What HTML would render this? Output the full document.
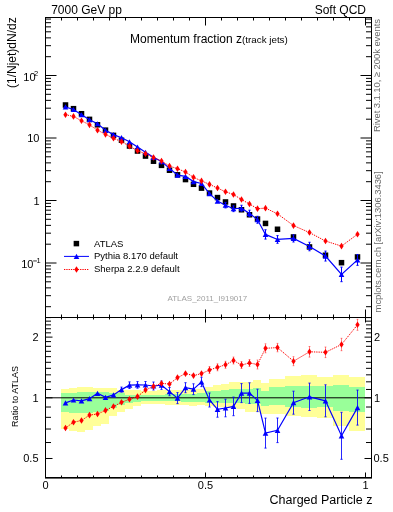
<!DOCTYPE html><html><head><meta charset="utf-8"><style>html,body{margin:0;padding:0;background:#fff;}svg{display:block;}text{font-family:"Liberation Sans",sans-serif;}svg{will-change:transform;}</style></head><body>
<svg width="393" height="512" viewBox="0 0 393 512">
<rect width="393" height="512" fill="#fff"/>
<g fill="#ffff99" shape-rendering="crispEdges"><rect x="61.00" y="389.00" width="8.00" height="40.10"/><rect x="69.00" y="388.10" width="8.00" height="42.90"/><rect x="77.00" y="387.30" width="8.00" height="44.30"/><rect x="85.00" y="387.30" width="8.00" height="43.00"/><rect x="93.00" y="387.70" width="8.00" height="38.20"/><rect x="101.00" y="387.60" width="8.00" height="35.90"/><rect x="109.00" y="388.20" width="8.00" height="28.00"/><rect x="117.00" y="389.50" width="8.00" height="22.90"/><rect x="125.00" y="390.10" width="8.00" height="18.40"/><rect x="133.00" y="390.10" width="8.00" height="15.90"/><rect x="141.00" y="390.70" width="8.00" height="13.40"/><rect x="149.00" y="390.50" width="8.00" height="13.70"/><rect x="157.00" y="390.30" width="8.00" height="14.00"/><rect x="165.00" y="390.00" width="8.00" height="14.50"/><rect x="173.00" y="389.80" width="8.00" height="15.00"/><rect x="181.00" y="389.50" width="8.00" height="15.70"/><rect x="189.00" y="389.20" width="8.00" height="16.30"/><rect x="197.00" y="388.70" width="8.00" height="16.60"/><rect x="205.00" y="387.00" width="8.00" height="18.90"/><rect x="213.00" y="385.30" width="8.00" height="21.20"/><rect x="221.00" y="384.20" width="8.00" height="22.90"/><rect x="229.00" y="382.40" width="8.00" height="25.40"/><rect x="237.00" y="381.70" width="8.00" height="27.40"/><rect x="245.00" y="382.20" width="8.00" height="29.40"/><rect x="253.00" y="379.70" width="8.00" height="32.60"/><rect x="261.00" y="383.20" width="8.00" height="31.00"/><rect x="269.00" y="378.50" width="16.00" height="35.50"/><rect x="285.00" y="376.40" width="16.00" height="39.20"/><rect x="301.00" y="375.00" width="16.00" height="42.00"/><rect x="317.00" y="377.30" width="16.00" height="40.20"/><rect x="333.00" y="375.10" width="16.00" height="50.60"/><rect x="349.00" y="376.80" width="16.00" height="53.90"/></g>
<g fill="#99ff99" shape-rendering="crispEdges"><rect x="61.00" y="392.80" width="8.00" height="19.10"/><rect x="69.00" y="392.50" width="8.00" height="20.00"/><rect x="77.00" y="392.20" width="8.00" height="21.00"/><rect x="85.00" y="392.20" width="8.00" height="20.60"/><rect x="93.00" y="392.40" width="8.00" height="19.50"/><rect x="101.00" y="392.20" width="8.00" height="18.60"/><rect x="109.00" y="392.60" width="8.00" height="15.30"/><rect x="117.00" y="393.30" width="8.00" height="12.10"/><rect x="125.00" y="394.50" width="8.00" height="8.90"/><rect x="133.00" y="394.50" width="8.00" height="7.70"/><rect x="141.00" y="395.10" width="8.00" height="5.80"/><rect x="149.00" y="394.60" width="8.00" height="6.40"/><rect x="157.00" y="394.60" width="8.00" height="6.40"/><rect x="165.00" y="394.40" width="8.00" height="6.80"/><rect x="173.00" y="394.10" width="8.00" height="7.30"/><rect x="181.00" y="393.90" width="8.00" height="7.70"/><rect x="189.00" y="393.60" width="8.00" height="8.20"/><rect x="197.00" y="392.70" width="8.00" height="9.20"/><rect x="205.00" y="391.00" width="8.00" height="11.50"/><rect x="213.00" y="390.50" width="8.00" height="12.50"/><rect x="221.00" y="389.90" width="8.00" height="13.10"/><rect x="229.00" y="389.30" width="8.00" height="13.70"/><rect x="237.00" y="388.80" width="8.00" height="14.60"/><rect x="245.00" y="389.30" width="8.00" height="14.70"/><rect x="253.00" y="388.30" width="8.00" height="15.70"/><rect x="261.00" y="390.90" width="8.00" height="15.00"/><rect x="269.00" y="387.20" width="16.00" height="17.90"/><rect x="285.00" y="386.20" width="16.00" height="20.30"/><rect x="301.00" y="385.50" width="16.00" height="22.40"/><rect x="317.00" y="385.80" width="16.00" height="21.40"/><rect x="333.00" y="385.10" width="16.00" height="25.60"/><rect x="349.00" y="386.50" width="16.00" height="25.70"/></g>
<line x1="45.5" y1="397.80" x2="371.5" y2="397.80" stroke="#000" stroke-width="1"/>
<g stroke="#000" stroke-width="1" fill="none">
<rect x="45.5" y="17.5" width="326.0" height="300.0"/>
<rect x="45.5" y="317.5" width="326.0" height="160.0"/>
<path d="M45.50 17.5v8M45.50 317.5v-8M45.50 317.5v5M45.50 477.5v-5M61.50 17.5v3M61.50 317.5v-3M61.50 317.5v2M61.50 477.5v-2M77.50 17.5v3M77.50 317.5v-3M77.50 317.5v2M77.50 477.5v-2M93.50 17.5v3M93.50 317.5v-3M93.50 317.5v2M93.50 477.5v-2M109.50 17.5v3M109.50 317.5v-3M109.50 317.5v2M109.50 477.5v-2M125.50 17.5v3M125.50 317.5v-3M125.50 317.5v2M125.50 477.5v-2M141.50 17.5v3M141.50 317.5v-3M141.50 317.5v2M141.50 477.5v-2M157.50 17.5v3M157.50 317.5v-3M157.50 317.5v2M157.50 477.5v-2M173.50 17.5v3M173.50 317.5v-3M173.50 317.5v2M173.50 477.5v-2M189.50 17.5v3M189.50 317.5v-3M189.50 317.5v2M189.50 477.5v-2M205.50 17.5v8M205.50 317.5v-8M205.50 317.5v5M205.50 477.5v-5M221.50 17.5v3M221.50 317.5v-3M221.50 317.5v2M221.50 477.5v-2M237.50 17.5v3M237.50 317.5v-3M237.50 317.5v2M237.50 477.5v-2M253.50 17.5v3M253.50 317.5v-3M253.50 317.5v2M253.50 477.5v-2M269.50 17.5v3M269.50 317.5v-3M269.50 317.5v2M269.50 477.5v-2M285.50 17.5v3M285.50 317.5v-3M285.50 317.5v2M285.50 477.5v-2M301.50 17.5v3M301.50 317.5v-3M301.50 317.5v2M301.50 477.5v-2M317.50 17.5v3M317.50 317.5v-3M317.50 317.5v2M317.50 477.5v-2M333.50 17.5v3M333.50 317.5v-3M333.50 317.5v2M333.50 477.5v-2M349.50 17.5v3M349.50 317.5v-3M349.50 317.5v2M349.50 477.5v-2M365.50 17.5v8M365.50 317.5v-8M365.50 317.5v5M365.50 477.5v-5M45.5 306.69h5.5M371.5 306.69h-5.5M45.5 295.68h5.5M371.5 295.68h-5.5M45.5 287.87h5.5M371.5 287.87h-5.5M45.5 281.81h5.5M371.5 281.81h-5.5M45.5 276.87h5.5M371.5 276.87h-5.5M45.5 272.68h5.5M371.5 272.68h-5.5M45.5 269.06h5.5M371.5 269.06h-5.5M45.5 265.86h5.5M371.5 265.86h-5.5M45.5 263.00h11M371.5 263.00h-11M45.5 244.19h5.5M371.5 244.19h-5.5M45.5 233.18h5.5M371.5 233.18h-5.5M45.5 225.37h5.5M371.5 225.37h-5.5M45.5 219.31h5.5M371.5 219.31h-5.5M45.5 214.37h5.5M371.5 214.37h-5.5M45.5 210.18h5.5M371.5 210.18h-5.5M45.5 206.56h5.5M371.5 206.56h-5.5M45.5 203.36h5.5M371.5 203.36h-5.5M45.5 200.50h11M371.5 200.50h-11M45.5 181.69h5.5M371.5 181.69h-5.5M45.5 170.68h5.5M371.5 170.68h-5.5M45.5 162.87h5.5M371.5 162.87h-5.5M45.5 156.81h5.5M371.5 156.81h-5.5M45.5 151.87h5.5M371.5 151.87h-5.5M45.5 147.68h5.5M371.5 147.68h-5.5M45.5 144.06h5.5M371.5 144.06h-5.5M45.5 140.86h5.5M371.5 140.86h-5.5M45.5 138.00h11M371.5 138.00h-11M45.5 119.19h5.5M371.5 119.19h-5.5M45.5 108.18h5.5M371.5 108.18h-5.5M45.5 100.37h5.5M371.5 100.37h-5.5M45.5 94.31h5.5M371.5 94.31h-5.5M45.5 89.37h5.5M371.5 89.37h-5.5M45.5 85.18h5.5M371.5 85.18h-5.5M45.5 81.56h5.5M371.5 81.56h-5.5M45.5 78.36h5.5M371.5 78.36h-5.5M45.5 75.50h11M371.5 75.50h-11M45.5 56.69h5.5M371.5 56.69h-5.5M45.5 45.68h5.5M371.5 45.68h-5.5M45.5 37.87h5.5M371.5 37.87h-5.5M45.5 31.81h5.5M371.5 31.81h-5.5M45.5 26.87h5.5M371.5 26.87h-5.5M45.5 22.68h5.5M371.5 22.68h-5.5M45.5 19.06h5.5M371.5 19.06h-5.5M45.5 458.49h7M371.5 458.49h-7M45.5 442.52h5.5M371.5 442.52h-5.5M45.5 429.03h5.5M371.5 429.03h-5.5M45.5 417.34h5.5M371.5 417.34h-5.5M45.5 407.02h5.5M371.5 407.02h-5.5M45.5 397.80h7M371.5 397.80h-7M45.5 389.46h5.5M371.5 389.46h-5.5M45.5 381.84h5.5M371.5 381.84h-5.5M45.5 374.83h5.5M371.5 374.83h-5.5M45.5 368.34h5.5M371.5 368.34h-5.5M45.5 362.30h5.5M371.5 362.30h-5.5M45.5 356.65h5.5M371.5 356.65h-5.5M45.5 351.34h5.5M371.5 351.34h-5.5M45.5 346.34h5.5M371.5 346.34h-5.5M45.5 341.60h5.5M371.5 341.60h-5.5M45.5 337.11h7M371.5 337.11h-7M45.5 332.84h5.5M371.5 332.84h-5.5M45.5 328.77h5.5M371.5 328.77h-5.5M45.5 324.88h5.5M371.5 324.88h-5.5M45.5 321.15h5.5M371.5 321.15h-5.5M45.5 317.58h5.5M371.5 317.58h-5.5"/>
</g>
<rect x="45" y="477" width="327" height="1.6" fill="#000"/>
<g fill="#000"><rect x="62.75" y="102.24" width="5.5" height="5.5"/><rect x="70.75" y="105.92" width="5.5" height="5.5"/><rect x="78.75" y="110.98" width="5.5" height="5.5"/><rect x="86.75" y="116.61" width="5.5" height="5.5"/><rect x="94.75" y="122.03" width="5.5" height="5.5"/><rect x="102.75" y="127.40" width="5.5" height="5.5"/><rect x="110.75" y="132.63" width="5.5" height="5.5"/><rect x="118.75" y="137.47" width="5.5" height="5.5"/><rect x="126.75" y="143.29" width="5.5" height="5.5"/><rect x="134.75" y="148.28" width="5.5" height="5.5"/><rect x="142.75" y="153.32" width="5.5" height="5.5"/><rect x="150.75" y="158.46" width="5.5" height="5.5"/><rect x="158.75" y="162.61" width="5.5" height="5.5"/><rect x="166.75" y="167.48" width="5.5" height="5.5"/><rect x="174.75" y="172.04" width="5.5" height="5.5"/><rect x="182.75" y="176.82" width="5.5" height="5.5"/><rect x="190.75" y="181.53" width="5.5" height="5.5"/><rect x="198.75" y="185.38" width="5.5" height="5.5"/><rect x="206.75" y="190.32" width="5.5" height="5.5"/><rect x="214.75" y="194.83" width="5.5" height="5.5"/><rect x="222.75" y="199.19" width="5.5" height="5.5"/><rect x="230.75" y="203.21" width="5.5" height="5.5"/><rect x="238.75" y="207.01" width="5.5" height="5.5"/><rect x="246.75" y="212.00" width="5.5" height="5.5"/><rect x="254.75" y="216.30" width="5.5" height="5.5"/><rect x="262.75" y="220.67" width="5.5" height="5.5"/><rect x="274.75" y="226.51" width="5.5" height="5.5"/><rect x="290.75" y="234.22" width="5.5" height="5.5"/><rect x="306.75" y="244.19" width="5.5" height="5.5"/><rect x="322.75" y="252.50" width="5.5" height="5.5"/><rect x="338.75" y="259.92" width="5.5" height="5.5"/><rect x="354.75" y="254.21" width="5.5" height="5.5"/></g>
<polyline points="65.50,106.95 73.50,109.50 81.50,114.74 89.50,119.75 97.50,123.74 105.50,130.32 113.50,134.65 121.50,137.71 129.50,141.83 137.50,147.09 145.50,152.24 153.50,157.36 161.50,161.58 169.50,168.37 177.50,175.07 185.50,176.37 193.50,181.58 201.50,183.47 209.50,193.69 217.50,201.12 225.50,205.18 233.50,208.75 241.50,208.23 249.50,213.39 257.50,219.77 265.50,234.42 277.50,239.46 293.50,238.44 309.50,246.52 325.50,256.08 341.50,274.39 357.50,259.90" fill="none" stroke="#00f" stroke-width="1.2"/>
<path d="M225.50 202.45V207.91M224.40 202.45h2.2M224.40 207.91h2.2M233.50 205.86V211.63M232.40 205.86h2.2M232.40 211.63h2.2M241.50 205.28V211.17M240.40 205.28h2.2M240.40 211.17h2.2M249.50 210.19V216.58M248.40 210.19h2.2M248.40 216.58h2.2M257.50 216.30V223.24M256.40 216.30h2.2M256.40 223.24h2.2M265.50 229.77V239.07M264.40 229.77h2.2M264.40 239.07h2.2M277.50 235.64V243.27M276.40 235.64h2.2M276.40 243.27h2.2M293.50 234.88V242.01M292.40 234.88h2.2M292.40 242.01h2.2M309.50 242.27V250.77M308.40 242.27h2.2M308.40 250.77h2.2M325.50 251.12V261.04M324.40 251.12h2.2M324.40 261.04h2.2M341.50 267.11V281.68M340.40 267.11h2.2M340.40 281.68h2.2M357.50 254.48V265.33M356.40 254.48h2.2M356.40 265.33h2.2" stroke="#00f" stroke-width="1"/>
<g fill="#00f"><path d="M62.70 109.55L65.50 104.35L68.30 109.55Z"/><path d="M70.70 112.10L73.50 106.90L76.30 112.10Z"/><path d="M78.70 117.34L81.50 112.14L84.30 117.34Z"/><path d="M86.70 122.35L89.50 117.15L92.30 122.35Z"/><path d="M94.70 126.34L97.50 121.14L100.30 126.34Z"/><path d="M102.70 132.92L105.50 127.72L108.30 132.92Z"/><path d="M110.70 137.25L113.50 132.05L116.30 137.25Z"/><path d="M118.70 140.31L121.50 135.11L124.30 140.31Z"/><path d="M126.70 144.43L129.50 139.23L132.30 144.43Z"/><path d="M134.70 149.69L137.50 144.49L140.30 149.69Z"/><path d="M142.70 154.84L145.50 149.64L148.30 154.84Z"/><path d="M150.70 159.96L153.50 154.76L156.30 159.96Z"/><path d="M158.70 164.18L161.50 158.98L164.30 164.18Z"/><path d="M166.70 170.97L169.50 165.77L172.30 170.97Z"/><path d="M174.70 177.67L177.50 172.47L180.30 177.67Z"/><path d="M182.70 178.97L185.50 173.77L188.30 178.97Z"/><path d="M190.70 184.18L193.50 178.98L196.30 184.18Z"/><path d="M198.70 186.07L201.50 180.87L204.30 186.07Z"/><path d="M206.70 196.29L209.50 191.09L212.30 196.29Z"/><path d="M214.70 203.72L217.50 198.52L220.30 203.72Z"/><path d="M222.70 207.78L225.50 202.58L228.30 207.78Z"/><path d="M230.70 211.35L233.50 206.15L236.30 211.35Z"/><path d="M238.70 210.83L241.50 205.63L244.30 210.83Z"/><path d="M246.70 215.99L249.50 210.79L252.30 215.99Z"/><path d="M254.70 222.37L257.50 217.17L260.30 222.37Z"/><path d="M262.70 237.02L265.50 231.82L268.30 237.02Z"/><path d="M274.70 242.06L277.50 236.86L280.30 242.06Z"/><path d="M290.70 241.04L293.50 235.84L296.30 241.04Z"/><path d="M306.70 249.12L309.50 243.92L312.30 249.12Z"/><path d="M322.70 258.68L325.50 253.48L328.30 258.68Z"/><path d="M338.70 276.99L341.50 271.79L344.30 276.99Z"/><path d="M354.70 262.50L357.50 257.30L360.30 262.50Z"/></g>
<polyline points="65.50,114.73 73.50,116.38 81.50,120.82 89.50,124.83 97.50,130.16 105.50,134.35 113.50,138.25 121.50,141.65 129.50,146.17 137.50,150.71 145.50,153.79 153.50,157.48 161.50,161.02 169.50,166.01 177.50,168.72 185.50,172.00 193.50,177.36 201.50,180.90 209.50,184.39 217.50,188.07 225.50,191.78 233.50,194.52 241.50,199.52 249.50,204.06 257.50,208.64 265.50,208.13 277.50,213.82 293.50,225.58 309.50,232.57 325.50,241.05 341.50,246.09 357.50,234.23" fill="none" stroke="#f00" stroke-width="1" stroke-dasharray="1.3 1"/>
<g fill="#f00"><path d="M65.50 111.43L67.65 114.73L65.50 118.03L63.35 114.73Z"/><path d="M73.50 113.08L75.65 116.38L73.50 119.68L71.35 116.38Z"/><path d="M81.50 117.52L83.65 120.82L81.50 124.12L79.35 120.82Z"/><path d="M89.50 121.53L91.65 124.83L89.50 128.13L87.35 124.83Z"/><path d="M97.50 126.86L99.65 130.16L97.50 133.46L95.35 130.16Z"/><path d="M105.50 131.05L107.65 134.35L105.50 137.65L103.35 134.35Z"/><path d="M113.50 134.95L115.65 138.25L113.50 141.55L111.35 138.25Z"/><path d="M121.50 138.35L123.65 141.65L121.50 144.95L119.35 141.65Z"/><path d="M129.50 142.87L131.65 146.17L129.50 149.47L127.35 146.17Z"/><path d="M137.50 147.41L139.65 150.71L137.50 154.01L135.35 150.71Z"/><path d="M145.50 150.49L147.65 153.79L145.50 157.09L143.35 153.79Z"/><path d="M153.50 154.18L155.65 157.48L153.50 160.78L151.35 157.48Z"/><path d="M161.50 157.72L163.65 161.02L161.50 164.32L159.35 161.02Z"/><path d="M169.50 162.71L171.65 166.01L169.50 169.31L167.35 166.01Z"/><path d="M177.50 165.42L179.65 168.72L177.50 172.02L175.35 168.72Z"/><path d="M185.50 168.70L187.65 172.00L185.50 175.30L183.35 172.00Z"/><path d="M193.50 174.06L195.65 177.36L193.50 180.66L191.35 177.36Z"/><path d="M201.50 177.60L203.65 180.90L201.50 184.20L199.35 180.90Z"/><path d="M209.50 181.09L211.65 184.39L209.50 187.69L207.35 184.39Z"/><path d="M217.50 184.77L219.65 188.07L217.50 191.37L215.35 188.07Z"/><path d="M225.50 188.48L227.65 191.78L225.50 195.08L223.35 191.78Z"/><path d="M233.50 191.22L235.65 194.52L233.50 197.82L231.35 194.52Z"/><path d="M241.50 196.22L243.65 199.52L241.50 202.82L239.35 199.52Z"/><path d="M249.50 200.76L251.65 204.06L249.50 207.36L247.35 204.06Z"/><path d="M257.50 205.34L259.65 208.64L257.50 211.94L255.35 208.64Z"/><path d="M265.50 204.83L267.65 208.13L265.50 211.43L263.35 208.13Z"/><path d="M277.50 210.52L279.65 213.82L277.50 217.12L275.35 213.82Z"/><path d="M293.50 222.28L295.65 225.58L293.50 228.88L291.35 225.58Z"/><path d="M309.50 229.27L311.65 232.57L309.50 235.87L307.35 232.57Z"/><path d="M325.50 237.75L327.65 241.05L325.50 244.35L323.35 241.05Z"/><path d="M341.50 242.79L343.65 246.09L341.50 249.39L339.35 246.09Z"/><path d="M357.50 230.93L359.65 234.23L357.50 237.53L355.35 234.23Z"/></g>
<polyline points="65.50,402.90 73.50,400.00 81.50,400.90 89.50,398.70 97.50,393.30 105.50,397.40 113.50,394.90 121.50,389.60 129.50,385.20 137.50,384.90 145.50,385.00 153.50,386.00 161.50,385.20 169.50,391.60 177.50,398.10 185.50,387.70 193.50,389.20 201.50,381.90 209.50,400.00 217.50,409.40 225.50,408.00 233.50,406.40 241.50,393.10 249.50,393.10 257.50,400.40 265.50,433.10 277.50,430.30 293.50,402.70 309.50,396.80 325.50,400.80 341.50,435.80 357.50,407.60" fill="none" stroke="#00f" stroke-width="1.2"/>
<path d="M121.50 387.10V392.10M120.40 387.10h2.2M120.40 392.10h2.2M129.50 381.90V388.50M128.40 381.90h2.2M128.40 388.50h2.2M137.50 381.60V388.20M136.40 381.60h2.2M136.40 388.20h2.2M145.50 381.50V388.50M144.40 381.50h2.2M144.40 388.50h2.2M153.50 382.00V390.00M152.40 382.00h2.2M152.40 390.00h2.2M161.50 381.00V389.40M160.40 381.00h2.2M160.40 389.40h2.2M169.50 387.50V395.70M168.40 387.50h2.2M168.40 395.70h2.2M177.50 392.60V403.60M176.40 392.60h2.2M176.40 403.60h2.2M185.50 382.70V392.70M184.40 382.70h2.2M184.40 392.70h2.2M193.50 383.80V394.60M192.40 383.80h2.2M192.40 394.60h2.2M201.50 377.20V386.60M200.40 377.20h2.2M200.40 386.60h2.2M209.50 393.00V407.00M208.40 393.00h2.2M208.40 407.00h2.2M217.50 401.60V417.20M216.40 401.60h2.2M216.40 417.20h2.2M225.50 399.20V416.80M224.40 399.20h2.2M224.40 416.80h2.2M233.50 397.10V415.70M232.40 397.10h2.2M232.40 415.70h2.2M241.50 383.60V402.60M240.40 383.60h2.2M240.40 402.60h2.2M249.50 382.80V403.40M248.40 382.80h2.2M248.40 403.40h2.2M257.50 389.20V411.60M256.40 389.20h2.2M256.40 411.60h2.2M265.50 418.10V448.10M264.40 418.10h2.2M264.40 448.10h2.2M277.50 418.00V442.60M276.40 418.00h2.2M276.40 442.60h2.2M293.50 391.20V414.20M292.40 391.20h2.2M292.40 414.20h2.2M309.50 383.10V410.50M308.40 383.10h2.2M308.40 410.50h2.2M325.50 384.80V416.80M324.40 384.80h2.2M324.40 416.80h2.2M341.50 412.30V459.30M340.40 412.30h2.2M340.40 459.30h2.2M357.50 390.10V425.10M356.40 390.10h2.2M356.40 425.10h2.2" stroke="#00f" stroke-width="0.85" fill="none"/>
<g fill="#00f"><path d="M62.70 405.50L65.50 400.30L68.30 405.50Z"/><path d="M70.70 402.60L73.50 397.40L76.30 402.60Z"/><path d="M78.70 403.50L81.50 398.30L84.30 403.50Z"/><path d="M86.70 401.30L89.50 396.10L92.30 401.30Z"/><path d="M94.70 395.90L97.50 390.70L100.30 395.90Z"/><path d="M102.70 400.00L105.50 394.80L108.30 400.00Z"/><path d="M110.70 397.50L113.50 392.30L116.30 397.50Z"/><path d="M118.70 392.20L121.50 387.00L124.30 392.20Z"/><path d="M126.70 387.80L129.50 382.60L132.30 387.80Z"/><path d="M134.70 387.50L137.50 382.30L140.30 387.50Z"/><path d="M142.70 387.60L145.50 382.40L148.30 387.60Z"/><path d="M150.70 388.60L153.50 383.40L156.30 388.60Z"/><path d="M158.70 387.80L161.50 382.60L164.30 387.80Z"/><path d="M166.70 394.20L169.50 389.00L172.30 394.20Z"/><path d="M174.70 400.70L177.50 395.50L180.30 400.70Z"/><path d="M182.70 390.30L185.50 385.10L188.30 390.30Z"/><path d="M190.70 391.80L193.50 386.60L196.30 391.80Z"/><path d="M198.70 384.50L201.50 379.30L204.30 384.50Z"/><path d="M206.70 402.60L209.50 397.40L212.30 402.60Z"/><path d="M214.70 412.00L217.50 406.80L220.30 412.00Z"/><path d="M222.70 410.60L225.50 405.40L228.30 410.60Z"/><path d="M230.70 409.00L233.50 403.80L236.30 409.00Z"/><path d="M238.70 395.70L241.50 390.50L244.30 395.70Z"/><path d="M246.70 395.70L249.50 390.50L252.30 395.70Z"/><path d="M254.70 403.00L257.50 397.80L260.30 403.00Z"/><path d="M262.70 435.70L265.50 430.50L268.30 435.70Z"/><path d="M274.70 432.90L277.50 427.70L280.30 432.90Z"/><path d="M290.70 405.30L293.50 400.10L296.30 405.30Z"/><path d="M306.70 399.40L309.50 394.20L312.30 399.40Z"/><path d="M322.70 403.40L325.50 398.20L328.30 403.40Z"/><path d="M338.70 438.40L341.50 433.20L344.30 438.40Z"/><path d="M354.70 410.20L357.50 405.00L360.30 410.20Z"/></g>
<polyline points="65.50,428.00 73.50,422.20 81.50,420.50 89.50,415.10 97.50,414.00 105.50,410.40 113.50,406.50 121.50,402.30 129.50,399.20 137.50,396.60 145.50,390.00 153.50,386.40 161.50,383.40 169.50,384.00 177.50,377.60 185.50,373.60 193.50,375.60 201.50,373.60 209.50,370.00 217.50,367.30 225.50,364.80 233.50,360.50 241.50,365.00 249.50,363.00 257.50,364.50 265.50,348.30 277.50,347.60 293.50,361.20 309.50,351.80 325.50,352.30 341.50,344.50 357.50,324.80" fill="none" stroke="#f00" stroke-width="1" stroke-dasharray="1.3 1"/>
<path d="M209.50 366.50V373.50M208.60 366.50h1.8M208.60 373.50h1.8M217.50 363.80V370.80M216.60 363.80h1.8M216.60 370.80h1.8M225.50 361.30V368.30M224.60 361.30h1.8M224.60 368.30h1.8M233.50 357.00V364.00M232.60 357.00h1.8M232.60 364.00h1.8M241.50 361.50V368.50M240.60 361.50h1.8M240.60 368.50h1.8M249.50 359.50V366.50M248.60 359.50h1.8M248.60 366.50h1.8M257.50 360.00V369.00M256.60 360.00h1.8M256.60 369.00h1.8M265.50 343.80V352.80M264.60 343.80h1.8M264.60 352.80h1.8M277.50 343.40V351.80M276.60 343.40h1.8M276.60 351.80h1.8M293.50 356.70V365.70M292.60 356.70h1.8M292.60 365.70h1.8M309.50 346.50V357.10M308.60 346.50h1.8M308.60 357.10h1.8M325.50 347.00V357.60M324.60 347.00h1.8M324.60 357.60h1.8M341.50 338.30V350.70M340.60 338.30h1.8M340.60 350.70h1.8M357.50 319.30V330.30M356.60 319.30h1.8M356.60 330.30h1.8" stroke="#f00" stroke-width="0.6" fill="none" stroke-opacity="0.8"/>
<g fill="#f00"><path d="M65.50 424.70L67.65 428.00L65.50 431.30L63.35 428.00Z"/><path d="M73.50 418.90L75.65 422.20L73.50 425.50L71.35 422.20Z"/><path d="M81.50 417.20L83.65 420.50L81.50 423.80L79.35 420.50Z"/><path d="M89.50 411.80L91.65 415.10L89.50 418.40L87.35 415.10Z"/><path d="M97.50 410.70L99.65 414.00L97.50 417.30L95.35 414.00Z"/><path d="M105.50 407.10L107.65 410.40L105.50 413.70L103.35 410.40Z"/><path d="M113.50 403.20L115.65 406.50L113.50 409.80L111.35 406.50Z"/><path d="M121.50 399.00L123.65 402.30L121.50 405.60L119.35 402.30Z"/><path d="M129.50 395.90L131.65 399.20L129.50 402.50L127.35 399.20Z"/><path d="M137.50 393.30L139.65 396.60L137.50 399.90L135.35 396.60Z"/><path d="M145.50 386.70L147.65 390.00L145.50 393.30L143.35 390.00Z"/><path d="M153.50 383.10L155.65 386.40L153.50 389.70L151.35 386.40Z"/><path d="M161.50 380.10L163.65 383.40L161.50 386.70L159.35 383.40Z"/><path d="M169.50 380.70L171.65 384.00L169.50 387.30L167.35 384.00Z"/><path d="M177.50 374.30L179.65 377.60L177.50 380.90L175.35 377.60Z"/><path d="M185.50 370.30L187.65 373.60L185.50 376.90L183.35 373.60Z"/><path d="M193.50 372.30L195.65 375.60L193.50 378.90L191.35 375.60Z"/><path d="M201.50 370.30L203.65 373.60L201.50 376.90L199.35 373.60Z"/><path d="M209.50 366.70L211.65 370.00L209.50 373.30L207.35 370.00Z"/><path d="M217.50 364.00L219.65 367.30L217.50 370.60L215.35 367.30Z"/><path d="M225.50 361.50L227.65 364.80L225.50 368.10L223.35 364.80Z"/><path d="M233.50 357.20L235.65 360.50L233.50 363.80L231.35 360.50Z"/><path d="M241.50 361.70L243.65 365.00L241.50 368.30L239.35 365.00Z"/><path d="M249.50 359.70L251.65 363.00L249.50 366.30L247.35 363.00Z"/><path d="M257.50 361.20L259.65 364.50L257.50 367.80L255.35 364.50Z"/><path d="M265.50 345.00L267.65 348.30L265.50 351.60L263.35 348.30Z"/><path d="M277.50 344.30L279.65 347.60L277.50 350.90L275.35 347.60Z"/><path d="M293.50 357.90L295.65 361.20L293.50 364.50L291.35 361.20Z"/><path d="M309.50 348.50L311.65 351.80L309.50 355.10L307.35 351.80Z"/><path d="M325.50 349.00L327.65 352.30L325.50 355.60L323.35 352.30Z"/><path d="M341.50 341.20L343.65 344.50L341.50 347.80L339.35 344.50Z"/><path d="M357.50 321.50L359.65 324.80L357.50 328.10L355.35 324.80Z"/></g>
<rect x="73.65" y="240.85" width="5.5" height="5.5"/>
<line x1="64" y1="256.4" x2="89" y2="256.4" stroke="#00f" stroke-width="1"/>
<g fill="#00f"><path d="M73.70 259.00L76.50 253.80L79.30 259.00Z"/></g>
<line x1="64" y1="269.5" x2="89" y2="269.5" stroke="#f00" stroke-width="1" stroke-dasharray="1.3 1"/>
<g fill="#f00"><path d="M76.50 266.20L78.65 269.50L76.50 272.80L74.35 269.50Z"/></g>
<g font-size="9.5" fill="#000">
<text x="94" y="247">ATLAS</text>
<text x="94" y="259.2">Pythia 8.170 default</text>
<text x="94" y="272.2">Sherpa 2.2.9 default</text>
</g>
<text x="51.2" y="14" font-size="12">7000 GeV pp</text>
<text x="366" y="14" font-size="12" text-anchor="end">Soft QCD</text>
<text x="130" y="43.3" font-size="12">Momentum fraction z<tspan font-size="9.8">(track jets)</tspan></text>
<text x="207.3" y="301.3" font-size="8" fill="#a0a0a0" text-anchor="middle">ATLAS_2011_I919017</text>
<g font-size="11" text-anchor="end">
<text x="39.5" y="142">10</text>
<text x="39.5" y="204.5">1</text>
</g>
<text x="23.3" y="80.9" font-size="11">10</text><text x="34" y="75.8" font-size="7.5">2</text>
<text x="21.2" y="268" font-size="11">10</text><rect x="33.2" y="260.5" width="3.7" height="0.9" fill="#222"/><text x="36.6" y="263" font-size="7.5">1</text>
<g font-size="11" text-anchor="end">
<text x="38.5" y="341">2</text>
<text x="38.5" y="402">1</text>
<text x="38.5" y="462.3">0.5</text>
</g>
<g font-size="11">
<text x="374" y="341">2</text>
<text x="374" y="402">1</text>
<text x="373.5" y="462.3">0.5</text>
</g>
<g font-size="11" text-anchor="middle">
<text x="45.5" y="489.3">0</text>
<text x="205.5" y="489.3">0.5</text>
<text x="365.5" y="489.3">1</text>
</g>
<text x="372.4" y="504" font-size="12.5" text-anchor="end">Charged Particle z</text>
<text transform="translate(16,17.3) rotate(-90)" font-size="12" text-anchor="end">(1/Njet)dN/dz</text>
<text transform="translate(17.9,366) rotate(-90)" font-size="9" text-anchor="end">Ratio to ATLAS</text>
<g font-size="9.5" fill="#6a6a6a" letter-spacing="-0.08">
<text transform="translate(379.9,19.1) rotate(-90)" text-anchor="end">Rivet 3.1.10, ≥ 200k events</text>
<text transform="translate(380.8,171.4) rotate(-90)" text-anchor="end">mcplots.cern.ch [arXiv:1306.3436]</text>
</g>
</svg></body></html>
